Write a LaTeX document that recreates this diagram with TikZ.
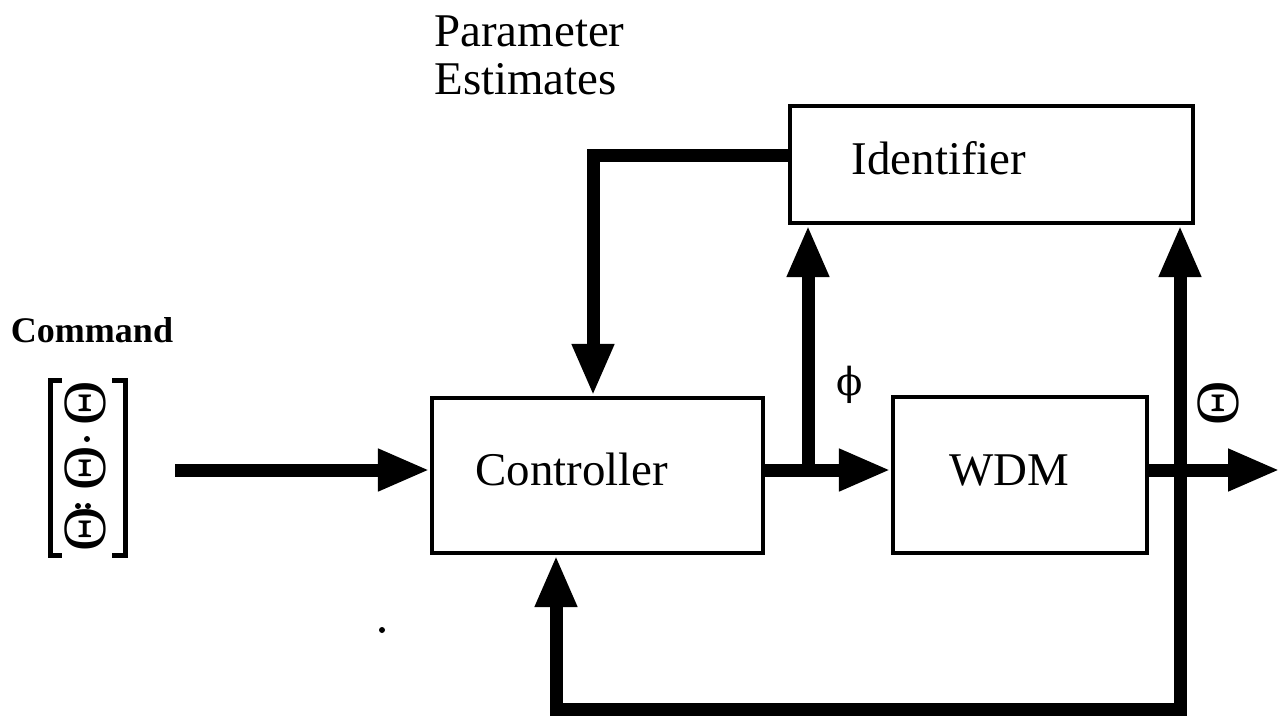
\documentclass[tikz,border=0pt]{standalone}
\usepackage{fontspec}
\setmainfont{Liberation Serif}
\newfontfamily\symfont{DejaVu Serif}
\usetikzlibrary{arrows.meta}
\newcommand{\bigtxt}{\fontsize{26.7}{32}\selectfont}
\newcommand{\thetafont}{\fontsize{35}{35}\selectfont}
\tikzset{
	block/.style={draw, line width=2.4pt, inner sep=0pt},
	flow/.style={line width=7.4pt, -{Triangle[length=1.04cm,width=0.78cm]}},
	dflow/.style={line width=7.4pt, {Triangle[length=1.04cm,width=0.78cm]}-{Triangle[length=1.04cm,width=0.78cm]}},
	lbl/.style={font=\bigtxt, inner sep=0pt, anchor=base},
	theta/.style={font=\thetafont, inner sep=0pt, rotate=90},
	brak/.style={line width=0.1cm},
}
\begin{document}
\begin{tikzpicture}[x=0.02cm, y=-0.02cm]
	\useasboundingbox (0,0) rectangle (1280,717);
	% blocks
	\node[block, minimum width=8.06cm, minimum height=2.34cm] (ident) at (991.5,164.5) {};
	\node[block, minimum width=6.62cm, minimum height=3.1cm] (ctrl) at (597.5,475.5) {};
	\node[block, minimum width=5.08cm, minimum height=3.12cm] (wdm) at (1020,475) {};
	\node[lbl] (identtxt) at (939,174) {Identifier};
	\node[lbl] (ctrltxt) at (572,485) {Controller};
	\node[lbl] (wdmtxt) at (1009,485) {WDM};
	\node[lbl, anchor=base west] (param) at (434,46) {Parameter};
	\node[lbl, anchor=base west] (estim) at (434,94) {Estimates};
	% command vector
	\node[font=\fontsize{20.5}{24}\selectfont\bfseries, inner sep=0pt, anchor=base] (cmd) at (92,342) {Command};
	\node[theta] (th1) at (85,403) {Θ};
	\node[theta] (th2) at (85,468) {Θ};
	\node[theta] (th3) at (85,529) {Θ};
	\fill (87,439) circle (0.06cm);
	\fill (78,506) circle (0.06cm) (88,506) circle (0.06cm);
	\draw[brak] (62,380) -- (50,380) -- (50,555) -- (62,555);
	\draw[brak] (112,380) -- (125,380) -- (125,555) -- (112,555);
	\fill (382,630) circle (0.06cm);
	% signals
	\coordinate (in) at (175,470);
	\coordinate (split) at (808,470);
	\coordinate (est) at (593,155);
	\coordinate (out) at (1280,470);
	\coordinate (fbr) at (1180,709);
	\coordinate (fbl) at (556,709);
	\draw[flow] (in) -- (in -| ctrl.west);
	\draw[flow] (ctrl.east |- split) -- (split -| wdm.west);
	\draw[flow] (split) -- (split |- ident.south);
	\draw[flow] (ident.west |- est) -- (est) -- (est |- ctrl.north);
	\draw[flow] (wdm.east |- out) -- (out);
	\draw[dflow] (fbr |- ident.south) -- (fbr) -- (fbl) -- (fbl |- ctrl.south);
	\node[inner sep=0pt, font=\symfont\fontsize{22}{22}\selectfont] (phi) at (850,385) {ϕ};
	\node[theta] (thout) at (1218,403) {Θ};
\end{tikzpicture}
\end{document}
